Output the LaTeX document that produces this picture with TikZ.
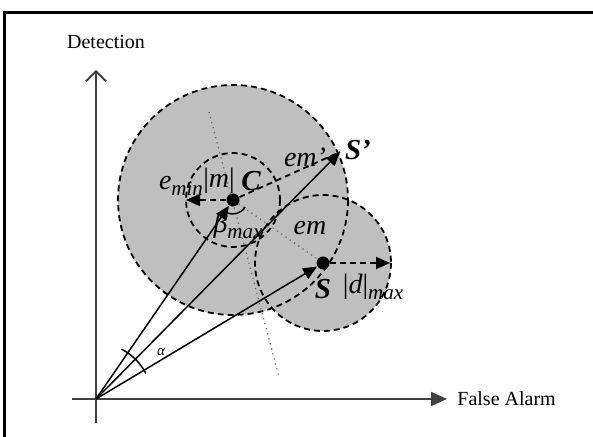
\documentclass[tikz,border=0pt]{standalone}
\usepackage{fontspec}
\setmainfont{Liberation Serif}
\usetikzlibrary{arrows.meta}
\newcommand\lowsub[1]{\raisebox{-0.45ex}{\fontsize{10.5}{12}\selectfont\itshape #1}}
\begin{document}
\begin{tikzpicture}[x=0.5pt,y=-0.5pt,
  lbl/.style={font=\fontsize{10}{12}\selectfont, inner sep=0pt},
  mlbl/.style={font=\fontsize{14}{16}\selectfont\itshape, inner sep=0pt},
  blbl/.style={font=\fontsize{14.5}{16}\selectfont\bfseries\itshape, inner sep=0pt},
  dot/.style={circle, fill=black, inner sep=0pt, minimum size=6.5pt},
  dline/.style={dash pattern=on 3pt off 2pt, line width=0.9pt},
  vec/.style={line width=0.75pt, -{Triangle[length=7pt,width=6pt]}},
  dvec/.style={dline, -{Triangle[length=7pt,width=6pt]}},
  axis/.style={line width=0.9pt, draw=black!75},
  dotl/.style={dotted, line width=0.6pt, draw=black!60},
  angarc/.style={line width=0.75pt}]

\useasboundingbox (0,0) rectangle (593,437);
\fill[white] (0,0) rectangle (593,437);
\draw[line width=1.2pt] (4.5,437) -- (4.5,12.5) -- (593,12.5);

\coordinate (O) at (96,399);
\coordinate (Cc) at (233,200);
\coordinate (Sc) at (323,263);
\coordinate (Sp) at (340,152);
\coordinate (Emin) at (186,200);
\coordinate (Dmax) at (390,263);
\coordinate (Pt) at (209,112);
\coordinate (Pb) at (279,377);
\coordinate (Ytop) at (96,70);
\coordinate (Ybot) at (96,423);
\coordinate (Xl) at (72,399);
\coordinate (Xr) at (447,399);

% shaded regions
\fill[black!25] (Cc) circle (115) (Sc) circle (68);
\draw[dline] (Cc) circle (115);
\draw[dline] (Sc) circle (68);
\draw[dline] (Cc) circle (47);

% dotted line
\draw[dotl] (Pt) -- (Pb);

% dots
\node[dot] (C) at (Cc) {};
\node[dot] (S) at (Sc) {};

\draw[dotl] (C) -- (S);

% dashed radii
\draw[dvec] (C) -- (Emin);
\draw[dline] (C) -- (Sp);
\draw[dvec] (S) -- (Dmax);

% axes
\draw[axis, -{Straight Barb[length=5pt,width=10pt]}] (Ybot) -- (Ytop);
\draw[axis, -{Triangle[length=8pt,width=7pt]}] (Xl) -- (Xr);
\node[lbl] (det) at (106,42) {Detection};
\node[lbl, anchor=west] (fa) at (457,399) {False Alarm};

% vectors
\draw[vec] (O) -- (C);
\draw[vec] (O) -- (S);
\draw[vec] (O) -- (Sp);

% angles
\draw[angarc] ([shift={(-27:56)}]O) arc[start angle=-27, end angle=-63, radius=56];
\draw[angarc] ([shift={(30:14)}]Cc) arc[start angle=30, end angle=118, radius=14];

% labels
\node[mlbl] (lemin) at (181,186) {e\lowsub{min}};
\node[mlbl] (lm) at (219,181) {{\upshape|}m{\upshape|}};
\node[blbl] (lC) at (251,181) {C};
\node[mlbl] (lemp) at (305,157) {em'};
\node[blbl] (lSp) at (358,150) {S'};
\node[mlbl] (lem) at (310,228) {em};
\node[blbl] (lS) at (323,289) {S};
\node[mlbl] (ld) at (373,287) {{\upshape|}d{\upshape|}\lowsub{max}};
\node[mlbl] (lb) at (238,226) {β\lowsub{max}};
\node[mlbl, font=\fontsize{7.5}{8}\selectfont\itshape] (la) at (161,352) {α};
\end{tikzpicture}
\end{document}
